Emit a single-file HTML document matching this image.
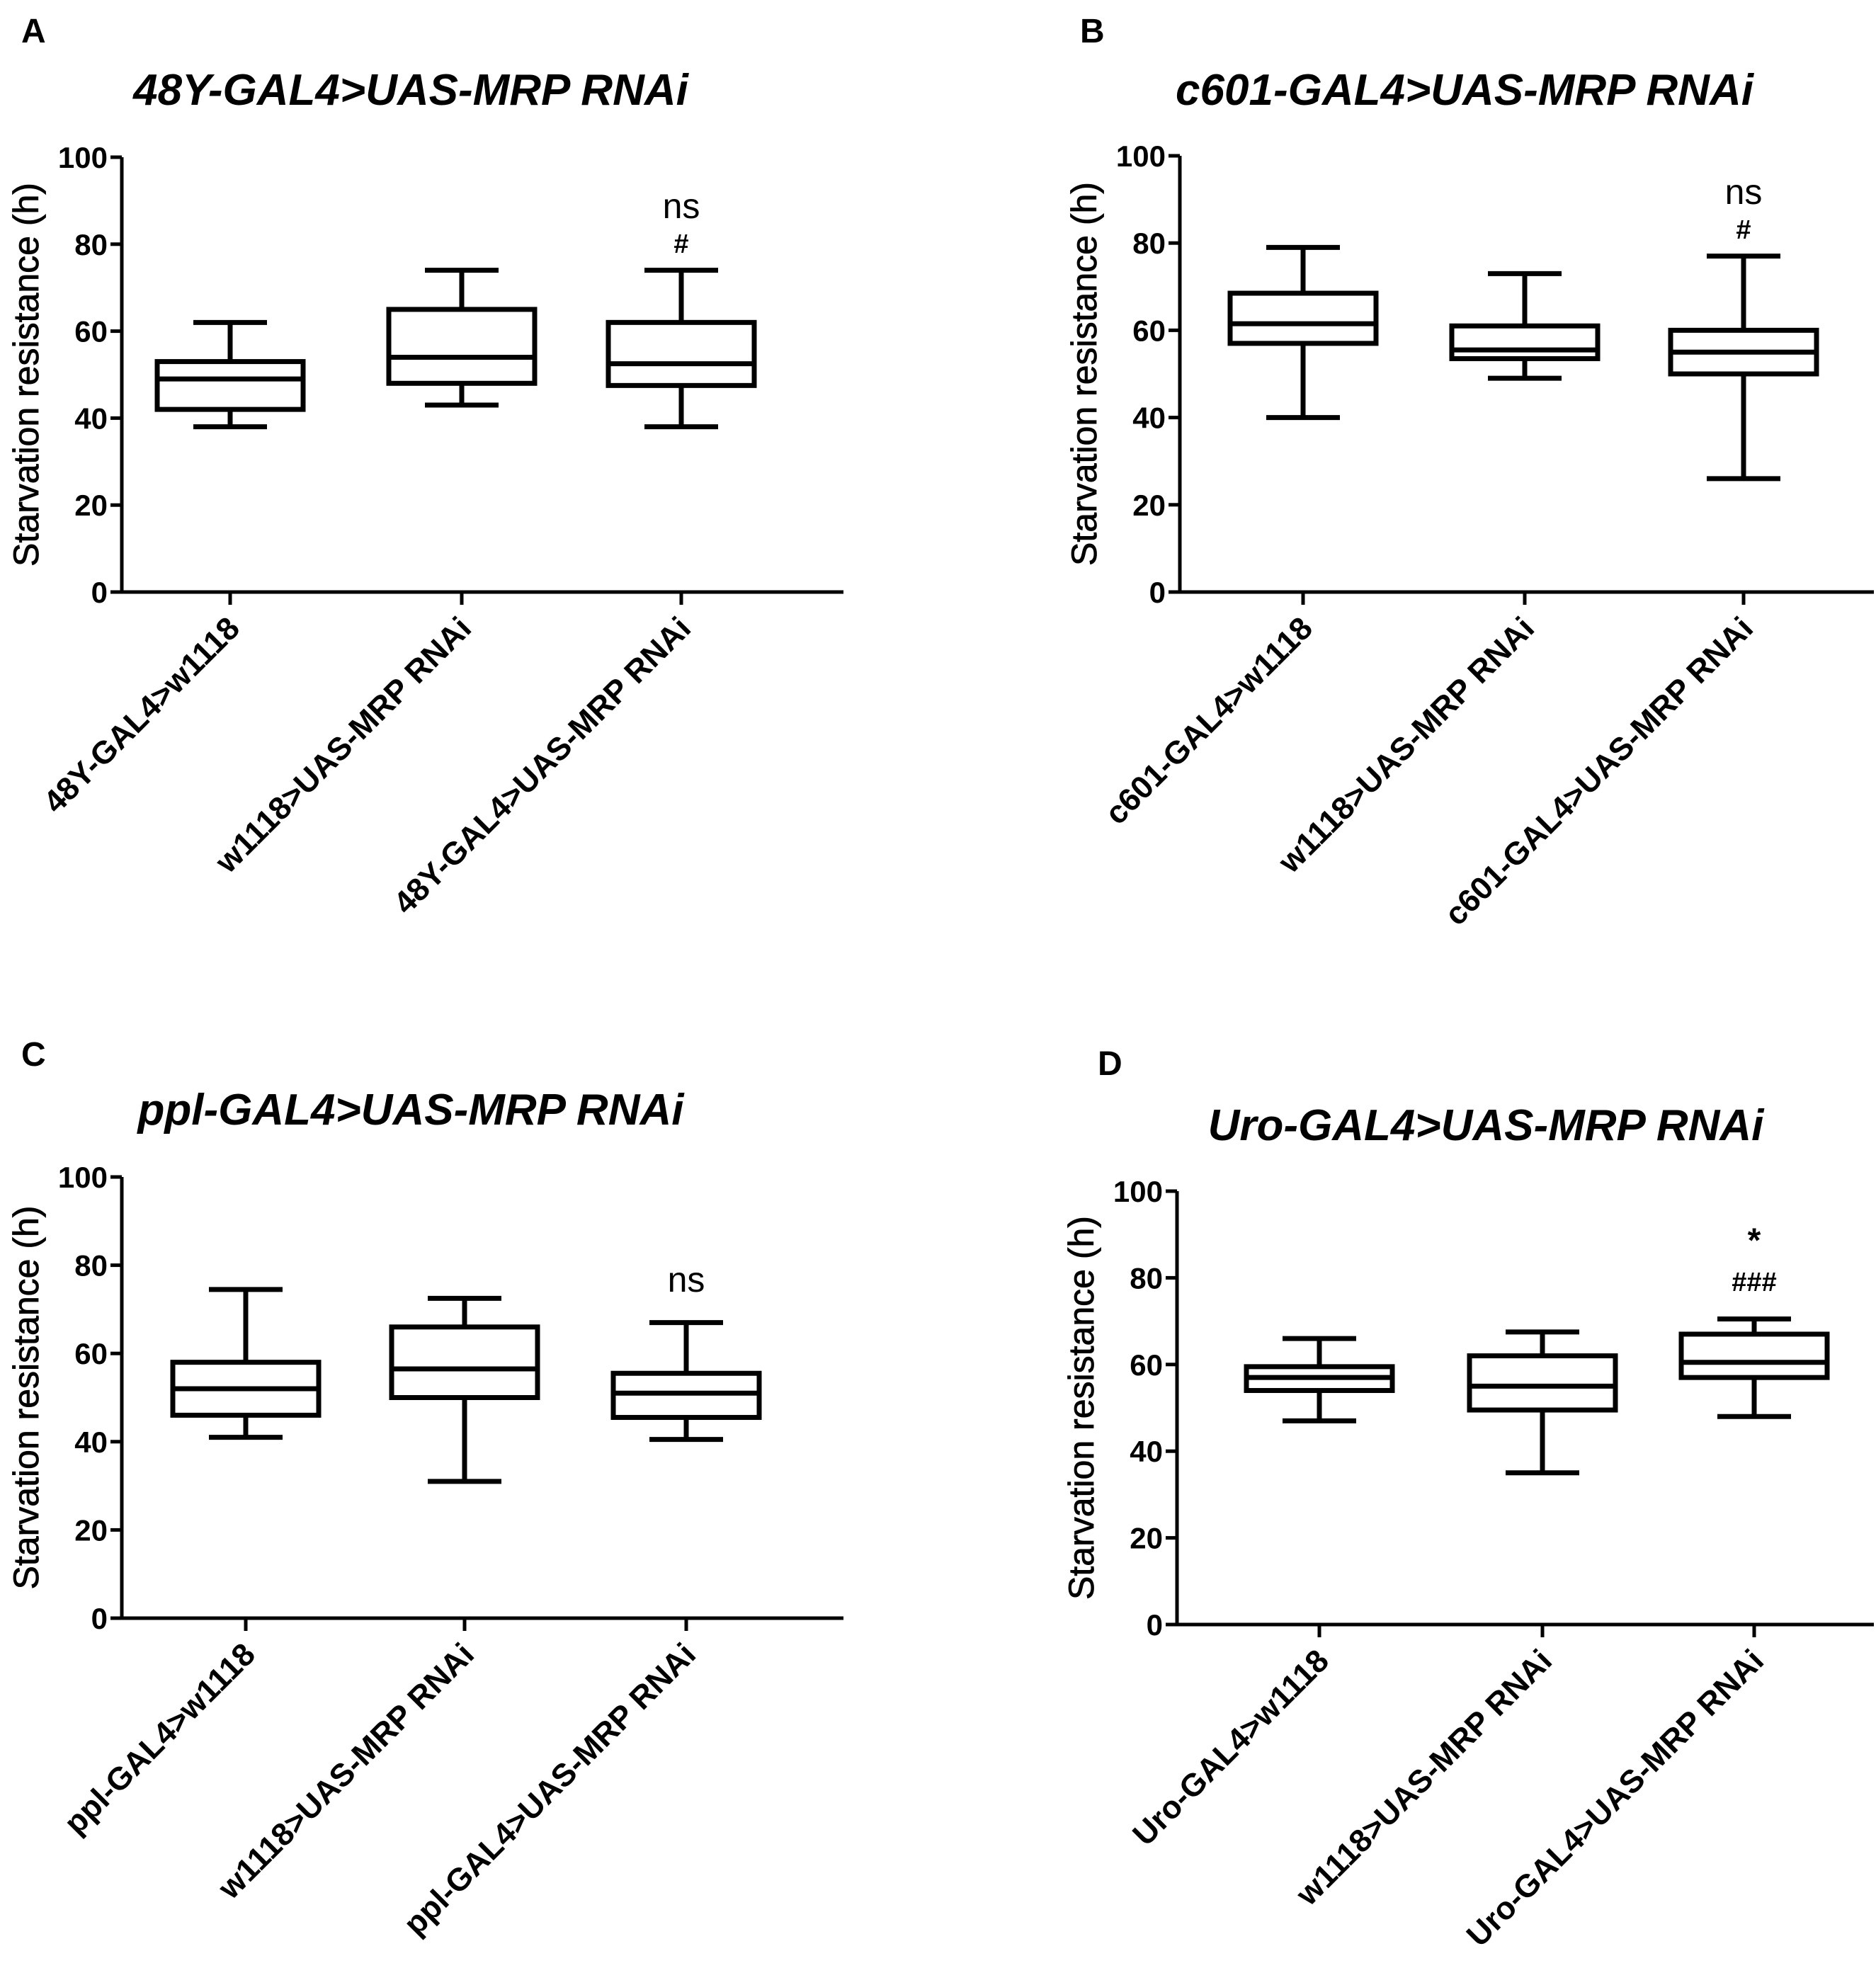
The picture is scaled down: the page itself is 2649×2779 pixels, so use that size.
<!DOCTYPE html>
<html><head><meta charset="utf-8"><style>
html,body{margin:0;padding:0;background:#fff;}
svg{display:block;font-family:"Liberation Sans",Arial,sans-serif;}
</style></head><body>
<svg id="fig" width="2649" height="2779" viewBox="0 0 2649 2779" xmlns="http://www.w3.org/2000/svg"></svg>
<script>
const yTicks = [0, 20, 40, 60, 80, 100];
const catsA = ["48Y-GAL4>w1118", "w1118>UAS-MRP RNAi", "48Y-GAL4>UAS-MRP RNAi"];
const minA = [38, 43, 38];
const q1A = [42, 48, 47.5];
const medA = [49, 54, 52.5];
const q3A = [53, 65, 62];
const maxA = [62, 74, 74];
const catsB = ["c601-GAL4>w1118", "w1118>UAS-MRP RNAi", "c601-GAL4>UAS-MRP RNAi"];
const minB = [40, 49, 26];
const q1B = [57, 53.5, 50];
const medB = [61.5, 55.5, 55];
const q3B = [68.5, 61, 60];
const maxB = [79, 73, 77];
const catsC = ["ppl-GAL4>w1118", "w1118>UAS-MRP RNAi", "ppl-GAL4>UAS-MRP RNAi"];
const minC = [41, 31, 40.5];
const q1C = [46, 50, 45.5];
const medC = [52, 56.5, 51];
const q3C = [58, 66, 55.5];
const maxC = [74.5, 72.5, 67];
const catsD = ["Uro-GAL4>w1118", "w1118>UAS-MRP RNAi", "Uro-GAL4>UAS-MRP RNAi"];
const minD = [47, 35, 48];
const q1D = [54, 49.5, 57];
const medD = [57, 55, 60.5];
const q3D = [59.5, 62, 67];
const maxD = [66, 67.5, 70.5];

const NS = "http://www.w3.org/2000/svg";
const svg = document.getElementById('fig');
function mk(tag, attrs, parent, text){
  const e = document.createElementNS(NS, tag);
  for (const k in attrs) e.setAttribute(k, attrs[k]);
  if (text !== undefined) e.textContent = text;
  (parent || svg).appendChild(e);
  return e;
}

function panel(cfg){
  const g = mk('g', {});
  
  
  const y = v => cfg.y0 - (cfg.y0 - cfg.y100) * v / 100;
  const x = i => cfg.cx[i];
  const lt = mk('text', {x: cfg.lx, y: cfg.ly, 'font-size': 48, 'font-weight': 'bold'}, g, cfg.letter);
  
  
  const tt = mk('text', {x: cfg.tx, y: cfg.ty, 'font-size': 62, 'font-weight': 'bold', 'font-style': 'italic', 'text-anchor': 'middle'}, g, cfg.title);
  
  
  const ax = mk('path', {d: `M${cfg.ax},${y(100)} V${cfg.y0} H${cfg.xend}`, stroke: '#000', 'stroke-width': 5, fill: 'none'}, g);
  
  
  yTicks.forEach(t => {
    const tk = mk('line', {x1: cfg.ax - 16, x2: cfg.ax, y1: y(t), y2: y(t), stroke: '#000', 'stroke-width': 5}, g);
    
    
    const tl = mk('text', {x: cfg.ax - 20, y: y(t) + 15, 'font-size': 42, 'font-weight': 'bold', 'text-anchor': 'end'}, g, String(t));
    
    
  });
  const yt = mk('text', {x: 0, y: 0, 'font-size': 50, 'text-anchor': 'middle', stroke: '#000', 'stroke-width': 0.8, transform: `translate(${cfg.ax - 118},${(y(0) + y(100)) / 2}) rotate(-90)`}, g, 'Starvation resistance (h)');
  
  
  const hw = 103, cw = 52;
  cfg.cats.forEach((c, i) => {
    const cx = x(i);
    const tk = mk('line', {x1: cx, x2: cx, y1: cfg.y0, y2: cfg.y0 + 18, stroke: '#000', 'stroke-width': 5}, g);
    
    
    const xl = mk('text', {x: 0, y: 0, 'font-size': 45, 'font-weight': 'bold', 'text-anchor': 'end', transform: `translate(${cx + 16},${cfg.y0 + 54}) rotate(-45)`}, g, c);
    
    
    const bg = mk('g', {stroke: '#000', 'stroke-width': 7, fill: 'none'}, g);
    
    
    mk('line', {x1: cx, x2: cx, y1: y(cfg.max[i]), y2: y(cfg.q3[i])}, bg);
    mk('line', {x1: cx, x2: cx, y1: y(cfg.q1[i]), y2: y(cfg.min[i])}, bg);
    mk('line', {x1: cx - cw, x2: cx + cw, y1: y(cfg.max[i]), y2: y(cfg.max[i])}, bg);
    mk('line', {x1: cx - cw, x2: cx + cw, y1: y(cfg.min[i]), y2: y(cfg.min[i])}, bg);
    mk('rect', {x: cx - hw, y: y(cfg.q3[i]), width: 2 * hw, height: y(cfg.q1[i]) - y(cfg.q3[i])}, bg);
    mk('line', {x1: cx - hw, x2: cx + hw, y1: y(cfg.med[i]), y2: y(cfg.med[i])}, bg);
  });
  cfg.ann.forEach(a => {
    const at = mk('text', {x: x(2), y: y(a.v), 'font-size': a.s, 'font-weight': a.b ? 'bold' : 'normal', 'text-anchor': 'middle'}, g, a.t);
    
    
  });
}

panel({letter: 'A', lx: 30, ly: 60, title: '48Y-GAL4>UAS-MRP RNAi', tx: 580, ty: 148,
  ax: 172, y0: 836, y100: 222, xend: 1191, cx: [325, 652, 962],
  cats: catsA, min: minA, q1: q1A, med: medA, q3: q3A, max: maxA,
  ann: [{t: 'ns', v: 86, s: 50}, {t: '#', v: 78, s: 38, b: true}]});
panel({letter: 'B', lx: 1525, ly: 60, title: 'c601-GAL4>UAS-MRP RNAi', tx: 2068, ty: 148,
  ax: 1666, y0: 836, y100: 220, xend: 2646, cx: [1840, 2153, 2462],
  cats: catsB, min: minB, q1: q1B, med: medB, q3: q3B, max: maxB,
  ann: [{t: 'ns', v: 89, s: 50}, {t: '#', v: 81, s: 38, b: true}]});
panel({letter: 'C', lx: 30, ly: 1505, title: 'ppl-GAL4>UAS-MRP RNAi', tx: 580, ty: 1588,
  ax: 172, y0: 2285, y100: 1662, xend: 1191, cx: [347, 656, 969],
  cats: catsC, min: minC, q1: q1C, med: medC, q3: q3C, max: maxC,
  ann: [{t: 'ns', v: 74, s: 50}]});
panel({letter: 'D', lx: 1550, ly: 1518, title: 'Uro-GAL4>UAS-MRP RNAi', tx: 2098, ty: 1610,
  ax: 1662, y0: 2294, y100: 1682, xend: 2646, cx: [1863, 2178, 2477],
  cats: catsD, min: minD, q1: q1D, med: medD, q3: q3D, max: maxD,
  ann: [{t: '*', v: 86, s: 48, b: true}, {t: '###', v: 77, s: 38, b: true}]});
</script>
</body></html>
